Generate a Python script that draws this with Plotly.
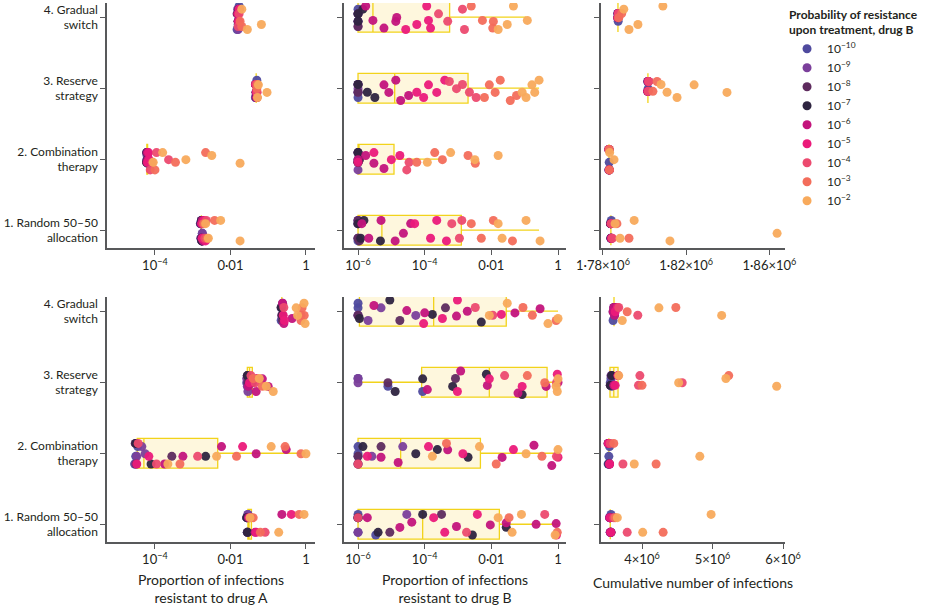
import plotly.graph_objects as go

CATEGORIES = ["1. Random 50–50<br>allocation", "2. Combination<br>therapy",
              "3. Reserve<br>strategy", "4. Gradual<br>switch"]
LEVELS = ["10<sup>−10</sup>", "10<sup>−9</sup>", "10<sup>−8</sup>", "10<sup>−7</sup>", "10<sup>−6</sup>",
          "10<sup>−5</sup>", "10<sup>−4</sup>", "10<sup>−3</sup>", "10<sup>−2</sup>"]
COLORS = ["#4f4a9e", "#7b3f9b", "#5e2b5e", "#2e2440", "#c3147c",
          "#eb1a7a", "#ec4a6f", "#f36d5b", "#f8aa5c"]

# ---- top row: proportion resistant to drug A (one list per probability level)
top_a_random = [[1.6e-3, 1.7e-3, 1.8e-3, 1.65e-3, 1.75e-3], [1.65e-3, 1.7e-3, 1.75e-3, 1.6e-3, 1.8e-3],
                [1.7e-3, 1.72e-3, 1.68e-3, 1.75e-3], [1.7e-3, 1.65e-3, 1.75e-3, 1.72e-3],
                [1.7e-3, 1.8e-3, 1.75e-3, 1.9e-3], [1.8e-3, 2.0e-3, 1.75e-3, 2.2e-3],
                [1.9e-3, 2.3e-3, 2.1e-3], [2.0e-3, 3.8e-3, 2.4e-3], [2.6e-3, 5.5e-3, 1.8e-2, 2.2e-3]]
top_a_combination = [[6.0e-5, 6.2e-5, 6.4e-5, 6.1e-5], [6.3e-5, 6.0e-5, 6.5e-5, 6.2e-5],
                     [6.1e-5, 6.3e-5, 6.0e-5], [6.2e-5, 6.4e-5, 6.0e-5], [6.3e-5, 6.5e-5, 6.2e-5],
                     [6.8e-5, 7.0e-5, 6.4e-5], [8.5e-5, 1.1e-4, 2.3e-4, 7.5e-5],
                     [3.5e-4, 2.2e-3, 1.0e-4], [9.0e-5, 1.6e-4, 6.6e-4, 3.2e-3, 1.8e-2]]
top_a_reserve = [[0.046, 0.048, 0.05, 0.047], [0.047, 0.049, 0.046], [0.048, 0.047, 0.05],
                 [0.046, 0.049, 0.048], [0.047, 0.05, 0.048], [0.049, 0.046, 0.05],
                 [0.048, 0.051], [0.05, 0.052], [0.052, 0.055, 0.093]]
top_a_gradual = [[0.015, 0.016, 0.017], [0.016, 0.0155, 0.017], [0.016, 0.015, 0.0165],
                 [0.0155, 0.016, 0.017], [0.016, 0.017, 0.0155], [0.0165, 0.016, 0.017],
                 [0.017, 0.016], [0.018, 0.02], [0.02, 0.028, 0.066]]

# ---- top row: proportion resistant to drug B
top_b_random = [[1e-6, 1e-6, 1e-6, 1e-6], [1e-6, 1e-6, 1e-6], [1e-6, 1e-6, 1.1e-6, 1e-6],
                [1e-6, 1.5e-6, 4.7e-6, 1.2e-6], [1.3e-6, 2.1e-6, 4.9e-6, 1.3e-5, 2.3e-5, 3.8e-5],
                [5e-5, 1.5e-4, 2.3e-4, 4.5e-4], [1.1e-3, 1.3e-3, 6.5e-4],
                [2.5e-3, 5e-3, 1.15e-2, 4.3e-2], [1.6e-2, 2.1e-2, 0.11, 0.29]]
top_b_combination = [[1e-6, 1e-6, 1e-6], [1e-6, 1e-6, 1e-6], [1e-6, 1e-6, 1e-6], [1e-6, 1.1e-6, 1e-6],
                     [1e-6, 1.7e-6, 3.0e-6, 6e-6], [1e-6, 1.0e-5, 1.8e-5, 3e-6],
                     [2.9e-5, 3.4e-5], [5.8e-5, 2.0e-4, 3.4e-4, 2.0e-3, 3.3e-3],
                     [1.2e-4, 6.0e-4, 3.2e-3, 1.6e-2]]
top_b_reserve = [[1e-6, 1e-6, 1e-6], [1e-6, 1e-6, 1e-6], [1e-6, 1e-6], [1e-6, 1.9e-6, 3.2e-6],
                 [6e-6, 8.4e-6, 1.36e-5, 1.9e-5, 3.3e-5], [5.8e-5, 9.3e-5, 1.3e-4, 2.3e-4, 4e-4],
                 [5.5e-4, 9e-4, 1.36e-3, 2.2e-3, 3.5e-3], [6.2e-3, 8.7e-3, 1.3e-2, 1.85e-2, 3.7e-2, 5.7e-2],
                 [8.4e-2, 0.11, 0.165, 0.27, 0.2]]
top_b_gradual = [[1e-6, 1e-6, 1e-6], [1e-6, 1e-6, 1e-6], [1e-6, 1e-6], [1e-6, 1.4e-6, 1e-6],
                 [1.7e-6, 2.8e-6, 6e-6, 1.36e-5, 1.45e-5], [2.7e-5, 5.8e-5, 1.15e-4, 1.3e-4, 1.5e-4],
                 [2.6e-4, 4.9e-4, 1.36e-3, 1.56e-3], [2.5e-3, 5.4e-3, 1.15e-2, 1.1e-2],
                 [1.6e-2, 3e-2, 4.6e-2, 0.12]]

# ---- top row: cumulative number of infections
top_c_random = [[1.7836e6, 1.7838e6, 1.784e6], [1.7837e6, 1.7839e6], [1.7838e6, 1.7836e6],
                [1.7839e6, 1.7837e6], [1.7838e6, 1.784e6], [1.7839e6, 1.7841e6],
                [1.784e6, 1.7845e6], [1.7867e6, 1.7925e6],
                [1.7858e6, 1.7882e6, 1.795e6, 1.8122e6, 1.8637e6]]
top_c_combination = [[1.7828e6, 1.783e6], [1.7829e6, 1.7828e6], [1.783e6, 1.7829e6],
                     [1.7829e6, 1.7831e6], [1.7828e6, 1.783e6], [1.7829e6, 1.783e6],
                     [1.783e6, 1.7829e6], [1.7831e6, 1.783e6], [1.7832e6, 1.7853e6]]
top_c_reserve = [[1.8015e6, 1.8017e6], [1.8016e6, 1.8015e6], [1.8017e6, 1.8016e6],
                 [1.8016e6, 1.8018e6], [1.8015e6, 1.8017e6], [1.8016e6, 1.8018e6],
                 [1.802e6, 1.8018e6], [1.804e6, 1.806e6],
                 [1.8079e6, 1.8108e6, 1.8156e6, 1.8238e6, 1.8396e6]]
top_c_gradual = [[1.7871e6, 1.7873e6], [1.7872e6, 1.7871e6], [1.7873e6, 1.7872e6],
                 [1.7872e6, 1.7874e6], [1.7871e6, 1.7873e6], [1.7872e6, 1.7874e6],
                 [1.7873e6, 1.7875e6], [1.789e6, 1.7876e6], [1.790e6, 1.7925e6, 1.7968e6, 1.8088e6]]

# ---- bottom row: proportion resistant to drug A
bot_a_random = [[0.027, 0.028, 0.029], [0.028, 0.027, 0.029], [0.029, 0.028], [0.028, 0.027],
                [0.03, 0.045, 0.23], [0.032, 0.048, 0.41], [0.035, 0.083],
                [0.04, 0.062, 0.66], [0.033, 0.19, 0.89]]
bot_a_combination = [[2.9e-5, 3.1e-5, 3.5e-5], [3.0e-5, 3.3e-5, 4.5e-5, 5.5e-5], [3.0e-5, 3.2e-5, 2.8e-4],
                     [3.1e-5, 7.9e-5, 2.2e-3], [1.8e-4, 5.5e-4, 5.8e-3, 0.048, 0.3],
                     [3.3e-5, 6.9e-5, 0.021], [1.1e-4, 1.35e-3, 3.6e-5],
                     [4.6e-4, 0.0145, 0.28, 0.74], [2.2e-4, 4.3e-3, 0.12, 1.0]]
bot_a_reserve = [[0.027, 0.028, 0.029], [0.028, 0.029, 0.027], [0.029, 0.028, 0.03], [0.028, 0.038],
                 [0.03, 0.048, 0.07, 0.1], [0.032, 0.05], [0.035, 0.045], [0.04, 0.07],
                 [0.058, 0.089, 0.136]]
bot_a_gradual = [[0.22, 0.23, 0.24], [0.23, 0.22, 0.24], [0.23, 0.24], [0.22, 0.24],
                 [0.24, 0.26, 0.43], [0.25, 0.27], [0.26, 0.74], [0.79, 0.74, 0.9],
                 [0.55, 0.89, 0.95, 0.6]]

# ---- bottom row: proportion resistant to drug B
bot_b_random = [[1e-6, 1e-6, 1e-6, 3.4e-6], [1e-6, 1e-6, 2.9e-5], [1e-6, 9e-6, 3.2e-4],
                [1e-6, 4e-6, 8.7e-5, 2.7e-3, 2.8e-2],
                [1.9e-6, 1.8e-5, 4.1e-5, 9e-4, 9.3e-3, 0.028, 0.22, 0.88],
                [1.86e-4, 4e-4, 3.8e-3, 0.9], [1e-6, 1.8e-3, 0.4], [3.4e-2, 0.95],
                [1.6e-2, 4.2e-2, 8e-2, 0.82]]
bot_b_combination = [[1e-6, 1e-6, 1e-6], [1e-6, 2.6e-6, 2.2e-5], [1e-6, 4.9e-6, 1e-6],
                     [1.4e-6, 5.4e-5, 2.4e-4, 2e-3], [4.9e-6, 1.6e-5, 4.9e-4, 2.1e-2, 0.19, 0.65],
                     [1.9e-6, 1.3e-4, 1.4e-3, 4.6e-2, 1.0], [1e-6, 0.9], [4.5e-4, 1.4e-2, 0.33],
                     [1.7e-4, 4.4e-3, 0.11, 1.0]]
bot_b_reserve = [[1e-6, 7.9e-6, 8.7e-5], [1e-6, 1e-6], [7.9e-6, 8.4e-4],
                 [1.3e-5, 8.7e-5, 6.9e-4, 7.1e-3, 8.4e-2], [1.2e-4, 1.2e-3, 7.6e-3, 6.3e-2, 0.44, 1.0],
                 [9.6e-4, 8.7e-3, 8.4e-2, 0.95], [0.9, 2.5e-2], [0.12, 0.4], [0.88, 1.0, 0.95]]
bot_b_gradual = [[1e-6, 1e-6, 1e-6], [1e-6, 2e-6, 4.9e-6, 5.4e-5], [1e-6, 1.8e-5, 4.2e-4],
                 [1.1e-6, 9e-6, 1.7e-4, 5e-3], [3e-6, 2.9e-5, 1e-4, 9e-4, 1.9e-3, 5.1e-2, 0.29],
                 [9.3e-5, 3.4e-4, 9.6e-4, 2e-2], [3.3e-3, 1.1e-2], [8.9e-2, 0.17, 0.88],
                 [8.7e-3, 3e-2, 0.5, 1.0]]

# ---- bottom row: cumulative number of infections
bot_c_random = [[3.54e6, 3.55e6, 3.56e6], [3.55e6, 3.54e6], [3.56e6, 3.55e6], [3.55e6, 3.56e6],
                [3.54e6, 3.55e6], [3.56e6, 3.55e6], [3.6e6, 3.79e6], [3.62e6, 4.3e6],
                [3.65e6, 4.01e6, 4.98e6]]
bot_c_combination = [[3.52e6, 3.53e6, 3.54e6], [3.53e6, 3.52e6], [3.54e6, 3.53e6], [3.53e6, 3.52e6],
                     [3.53e6, 3.54e6], [3.52e6, 3.54e6], [3.55e6, 3.73e6], [3.6e6, 4.2e6],
                     [3.89e6, 4.82e6]]
bot_c_reserve = [[3.55e6, 3.56e6, 3.57e6], [3.56e6, 3.55e6], [3.57e6, 3.56e6], [3.55e6, 3.57e6],
                 [3.66e6, 3.6e6], [3.62e6, 3.66e6], [3.95e6, 3.97e6, 4.57e6], [4.0e6, 5.23e6],
                 [3.67e6, 4.52e6, 5.19e6, 5.91e6]]
bot_c_gradual = [[3.59e6, 3.6e6, 3.61e6], [3.6e6, 3.59e6], [3.61e6, 3.6e6], [3.6e6, 3.61e6],
                 [3.59e6, 3.6e6, 3.61e6], [3.62e6, 3.65e6], [3.67e6, 3.94e6], [3.79e6, 4.48e6],
                 [3.72e6, 4.24e6, 5.13e6]]

# box summaries per category: (q1, median, q3, lower whisker, upper whisker)
top_a_box = [(1.7e-3, 1.7e-3, 1.7e-3, 1.7e-3, 1.7e-3), (6.1e-5, 6.2e-5, 6.4e-5, 6.1e-5, 6.4e-5),
             (0.048, 0.048, 0.048, 0.048, 0.048), (0.016, 0.016, 0.016, 0.016, 0.016)]
top_b_box = [(1e-6, 5.2e-6, 1.26e-3, 1e-6, 0.27), (1e-6, 1e-6, 1.2e-5, 1e-6, 3.0e-4),
             (1e-6, 1.26e-5, 2.0e-3, 1e-6, 0.27), (1e-6, 2.8e-6, 5.6e-4, 1e-6, 0.11)]
top_c_box = [(1.7838e6, 1.7838e6, 1.7838e6, 1.7838e6, 1.7838e6), (1.7829e6, 1.7829e6, 1.7829e6, 1.7829e6, 1.7829e6),
             (1.8016e6, 1.8016e6, 1.8016e6, 1.8016e6, 1.8016e6), (1.7872e6, 1.7872e6, 1.7872e6, 1.7872e6, 1.7872e6)]
bot_a_box = [(0.029, 0.031, 0.036, 0.029, 0.036), (3.4e-5, 5.1e-5, 4.6e-3, 3.4e-5, 1.0),
             (0.028, 0.032, 0.038, 0.028, 0.038), (0.23, 0.23, 0.23, 0.23, 0.23)]
bot_b_box = [(1e-6, 8.7e-5, 1.74e-2, 1e-6, 1.0), (1e-6, 1.9e-5, 4.7e-3, 1e-6, 1.0),
             (8.1e-5, 8.7e-3, 0.47, 1.1e-6, 1.0), (1.1e-6, 1.86e-4, 2.8e-2, 1.1e-6, 1.0)]
bot_c_box = [(3.55e6, 3.55e6, 3.55e6, 3.55e6, 3.55e6), (3.53e6, 3.53e6, 3.53e6, 3.53e6, 3.53e6),
             (3.546e6, 3.6e6, 3.66e6, 3.546e6, 3.66e6), (3.603e6, 3.603e6, 3.603e6, 3.603e6, 3.603e6)]

panels = [
    ("x", "y", [top_a_random, top_a_combination, top_a_reserve, top_a_gradual], top_a_box),
    ("x2", "y2", [top_b_random, top_b_combination, top_b_reserve, top_b_gradual], top_b_box),
    ("x3", "y3", [top_c_random, top_c_combination, top_c_reserve, top_c_gradual], top_c_box),
    ("x4", "y4", [bot_a_random, bot_a_combination, bot_a_reserve, bot_a_gradual], bot_a_box),
    ("x5", "y5", [bot_b_random, bot_b_combination, bot_b_reserve, bot_b_gradual], bot_b_box),
    ("x6", "y6", [bot_c_random, bot_c_combination, bot_c_reserve, bot_c_gradual], bot_c_box),
]

FONT = "Lato, 'Open Sans', sans-serif"
TEXT = "#231f20"
AXIS = "#58595b"

fig = go.Figure()

for xa, ya, groups, box in panels:
    q1, med, q3, lo, hi = (list(v) for v in zip(*box))
    fig.add_trace(go.Box(
        y=CATEGORIES, q1=q1, median=med, q3=q3, lowerfence=lo, upperfence=hi,
        orientation="h", width=0.42, whiskerwidth=0, boxpoints=False,
        fillcolor="rgba(252,238,180,0.45)", line=dict(color="#f2d31b", width=1.3),
        hoverinfo="skip", showlegend=False, xaxis=xa, yaxis=ya,
    ))
    for i, color in enumerate(COLORS):
        xs, ys = [], []
        for cat, group in zip(CATEGORIES, groups):
            xs += group[i]
            ys += [cat] * len(group[i])
        fig.add_trace(go.Box(
            x=xs, y=ys, orientation="h", boxpoints="all", jitter=0.85, pointpos=0,
            width=0.42, fillcolor="rgba(0,0,0,0)", line=dict(width=0, color=color),
            marker=dict(color=color, size=9, opacity=0.95),
            hoverinfo="skip", showlegend=False, xaxis=xa, yaxis=ya,
        ))

# legend entries
for label, color in zip(LEVELS, COLORS):
    fig.add_trace(go.Scatter(x=[None], y=[None], mode="markers", name=label,
                             marker=dict(color=color, size=9), xaxis="x", yaxis="y"))

col_domains = [[0, 0.3068], [0.3496, 0.677], [0.7286, 1.0]]
row_domains = [[0.5455, 1.0], [0, 0.4545]]

x_specs = [
    dict(type="log", range=[-5.27, 0.24], tickvals=[1e-4, 1e-2, 1],
         ticktext=["10<sup>−4</sup>", "0·01", "1"]),
    dict(type="log", range=[-6.42, 0.24], tickvals=[1e-6, 1e-4, 1e-2, 1],
         ticktext=["10<sup>−6</sup>", "10<sup>−4</sup>", "0·01", "1"]),
    dict(type="linear", range=[1.77904e6, 1.8675e6], tickvals=[1.78e6, 1.82e6, 1.86e6],
         ticktext=["1·78×10<sup>6</sup>", "1·82×10<sup>6</sup>", "1·86×10<sup>6</sup>"]),
    dict(type="log", range=[-5.27, 0.24], tickvals=[1e-4, 1e-2, 1],
         ticktext=["10<sup>−4</sup>", "0·01", "1"]),
    dict(type="log", range=[-6.42, 0.24], tickvals=[1e-6, 1e-4, 1e-2, 1],
         ticktext=["10<sup>−6</sup>", "10<sup>−4</sup>", "0·01", "1"]),
    dict(type="linear", range=[3.4184e6, 6.028e6], tickvals=[4e6, 5e6, 6e6],
         ticktext=["4×10<sup>6</sup>", "5×10<sup>6</sup>", "6×10<sup>6</sup>"]),
]

axis_style = dict(showline=True, linecolor=AXIS, linewidth=1.5, ticks="outside", ticklen=5,
                  tickcolor=AXIS, tickwidth=1.3, showgrid=False, zeroline=False, automargin=False,
                  tickfont=dict(family=FONT, size=13, color=TEXT))

layout_axes = {}
for k in range(6):
    r, c = divmod(k, 3)
    suffix = "" if k == 0 else str(k + 1)
    layout_axes["xaxis" + suffix] = dict(axis_style, domain=col_domains[c],
                                         anchor="y" + suffix, **x_specs[k])
    layout_axes["yaxis" + suffix] = dict(axis_style, domain=row_domains[r], anchor="x" + suffix,
                                         type="category", categoryorder="array",
                                         categoryarray=CATEGORIES, range=[-0.25, 3.2],
                                         showticklabels=(c == 0),
                                         tickfont=dict(family=FONT, size=12, color=TEXT))

fig.update_layout(
    width=932, height=607,
    margin=dict(l=107, r=147, t=3, b=65),
    paper_bgcolor="white", plot_bgcolor="white",
    font=dict(family=FONT, color=TEXT),
    boxmode="overlay",
    showlegend=True,
    legend=dict(
        x=1.003, y=1.0, xanchor="left", yanchor="top",
        title=dict(text="<b>Probability of resistance<br>upon treatment, drug B</b>",
                   font=dict(family=FONT, size=12, color=TEXT)),
        font=dict(family=FONT, size=12, color=TEXT),
        itemwidth=30, tracegroupgap=0, bgcolor="rgba(0,0,0,0)",
    ),
    **layout_axes,
)

titles = ["Proportion of infections<br>resistant to drug A",
          "Proportion of infections<br>resistant to drug B",
          "Cumulative number of infections"]
for c, title in enumerate(titles):
    fig.add_annotation(
        text=title, xref="paper", yref="paper",
        x=sum(col_domains[c]) / 2, y=-0.087 if c < 2 else -0.075,
        xanchor="center", yanchor="middle", showarrow=False,
        font=dict(family=FONT, size=14, color=TEXT),
    )

# drop the browser's default page margin so the figure sits at the window origin
fig.write_html("out.html", config={"displayModeBar": False},
               post_script="document.body.style.margin='0';")
